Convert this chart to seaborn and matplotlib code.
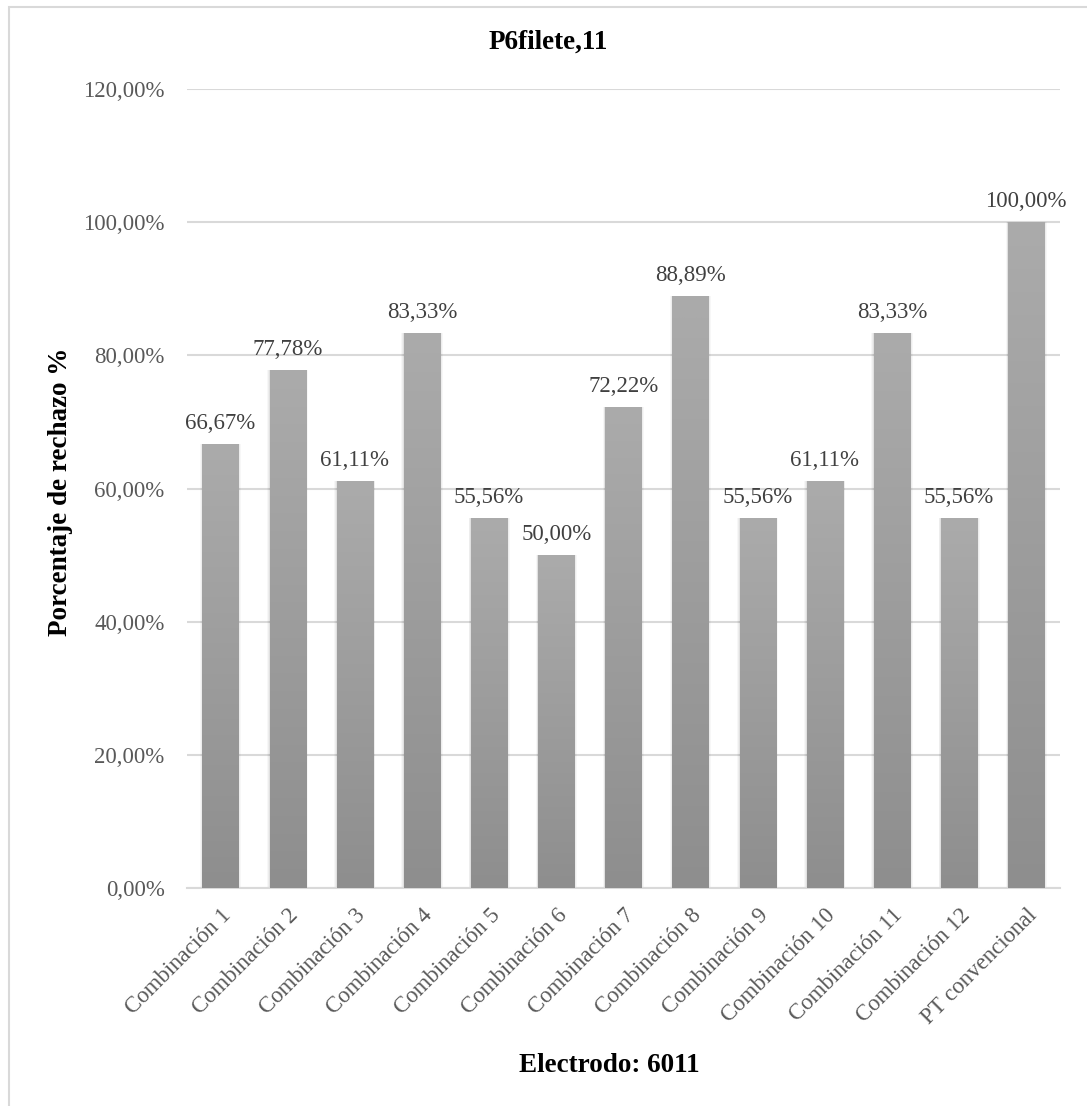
import numpy as np
import pandas as pd
import matplotlib
matplotlib.use("Agg")
import matplotlib.pyplot as plt
from matplotlib.patches import Rectangle
import seaborn as sns

categories = ["Combinación 1", "Combinación 2", "Combinación 3", "Combinación 4",
              "Combinación 5", "Combinación 6", "Combinación 7", "Combinación 8",
              "Combinación 9", "Combinación 10", "Combinación 11", "Combinación 12",
              "PT convencional"]
rechazo = [66.67, 77.78, 61.11, 83.33, 55.56, 50.00, 72.22, 88.89,
           55.56, 61.11, 83.33, 55.56, 100.00]
y_ticks = [0, 20, 40, 60, 80, 100, 120]

title = "P6filete,11"
xlabel = "Electrodo: 6011"
ylabel = "Porcentaje de rechazo %"

df = pd.DataFrame({"cat": categories, "val": rechazo})

sns.set_theme(style="white")
plt.rcParams["font.family"] = ["Liberation Serif", "DejaVu Serif"]

fig = plt.figure(figsize=(10.87, 11.06), dpi=100)
ax = fig.add_axes([0.172, 0.197, 0.803, 0.7225])

sns.barplot(data=df, x="cat", y="val", color="#a0a0a0", width=0.54,
            ax=ax, zorder=3, errorbar=None)

def pct(v):
    return f"{v:.2f}".replace(".", ",") + "%"

# vertical gradient fill + soft shadow for each bar
grad = np.linspace(0, 1, 256).reshape(-1, 1)
cmap = matplotlib.colors.LinearSegmentedColormap.from_list("g", ["#8e8e8e", "#ababab"])
for p in ax.patches:
    x0, w, h = p.get_x(), p.get_width(), p.get_height()
    for k, a in enumerate([0.05, 0.04, 0.03]):
        d = 0.012 * (k + 1)
        ax.add_patch(Rectangle((x0 - d, 0), w + 2 * d, h + d * 0.6,
                               facecolor="black", alpha=a, lw=0, zorder=2))
    p.set_facecolor("none")
    p.set_edgecolor("none")
    ax.imshow(grad, extent=(x0, x0 + w, 0, h), origin="lower", cmap=cmap,
              aspect="auto", zorder=3, interpolation="bicubic")

for i, v in enumerate(rechazo):
    ax.annotate(pct(v), (i, v), xytext=(0, 7), textcoords="offset points",
                ha="center", va="bottom", fontsize=16.5, color="#404040", zorder=5)

ax.set_xlim(-0.5, len(categories) - 0.5)
ax.set_ylim(0, 120)
ax.set_yticks(y_ticks)
ax.set_yticklabels([pct(t) for t in y_ticks], fontsize=16.5, color="#595959")
ax.yaxis.grid(True, color="#d9d9d9", lw=1.5, zorder=0)
ax.set_axisbelow(True)
for s in ["top", "right", "left"]:
    ax.spines[s].set_visible(False)
ax.spines["bottom"].set_color("#d9d9d9")
ax.spines["bottom"].set_linewidth(1.5)
ax.tick_params(axis="y", length=0, pad=16)
ax.tick_params(axis="x", length=0, pad=12)
ax.set_xticks(range(len(categories)))
ax.set_xticklabels(categories, rotation=45, ha="right", rotation_mode="anchor",
                   fontsize=16.5, color="#595959")
ax.set_xlabel("")
ax.set_ylabel("")

fig.text(0.561, 0.037, xlabel, ha="center", va="center", fontsize=19.5,
         fontweight="bold", color="black")
fig.text(0.056, 0.555, ylabel, ha="center", va="center", rotation=90,
         fontsize=19.5, fontweight="bold", color="black")
fig.text(0.504, 0.962, title, ha="center", va="center", fontsize=19.5,
         fontweight="bold", color="black")

fig.patches.append(Rectangle((0.008, -0.05), 1.1, 1.044, transform=fig.transFigure,
                             fill=False, edgecolor="#d9d9d9", lw=1.5))

fig.savefig("out.png", dpi=100)
